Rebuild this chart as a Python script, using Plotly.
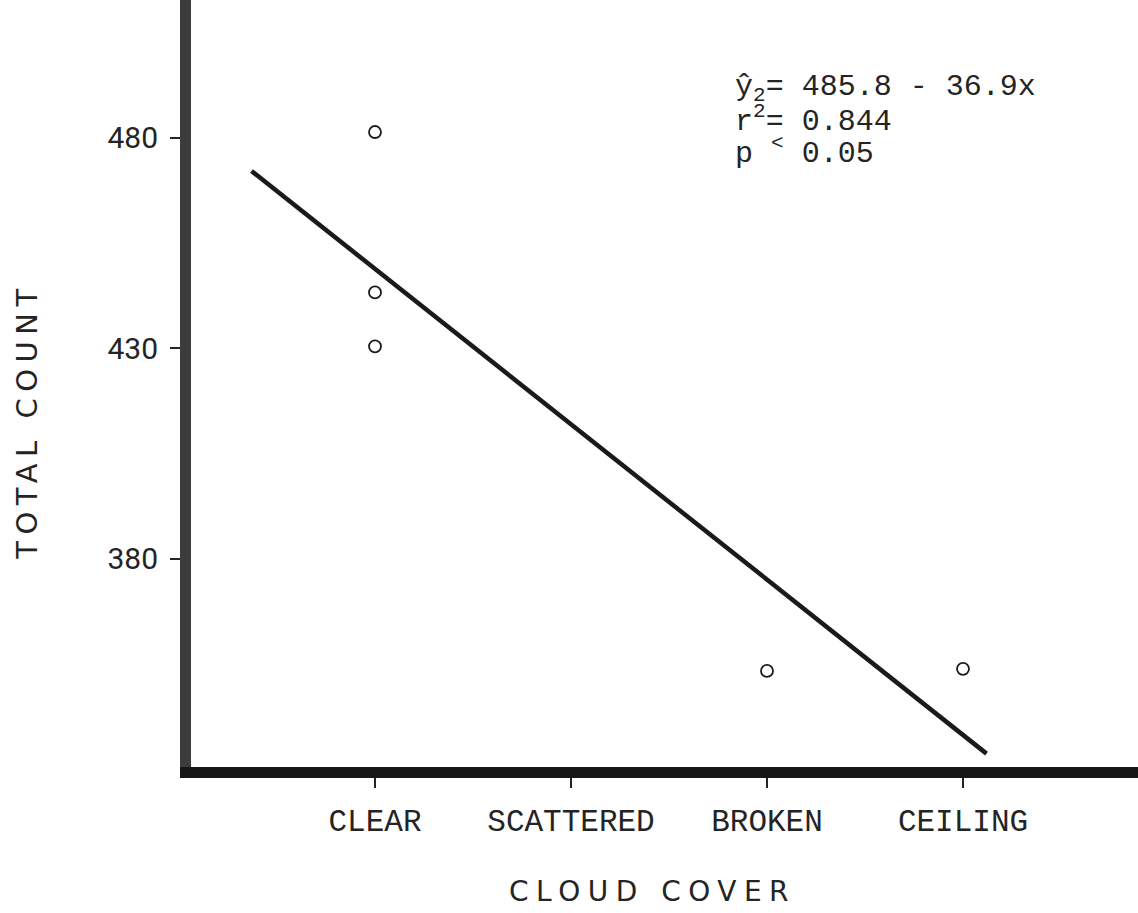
import numpy as np
import plotly.graph_objects as go

# ---- data ----
categories = ["CLEAR", "SCATTERED", "BROKEN", "CEILING"]
cat_pos = [1, 2, 3, 4]
obs_x = [1, 1, 1, 3, 4]
obs_y = [481.4, 443.3, 430.5, 353.4, 353.9]
fit_intercept = 485.8
fit_slope = -36.9
fit_x_span = [0.37, 4.12]
y_ticks = [330, 380, 430, 480]

W, H = 1138, 913
L, B = 191, 145.5
plot_w = W - L
plot_h = H - B

fx = np.array(fit_x_span)
fy = fit_intercept + fit_slope * fx

fig = go.Figure()
fig.add_trace(go.Scatter(x=fx, y=fy, mode="lines",
                         line=dict(color="#1a1a1a", width=4.5),
                         hoverinfo="skip", showlegend=False))
fig.add_trace(go.Scatter(x=obs_x, y=obs_y, mode="markers",
                         marker=dict(symbol="circle-open", size=12,
                                     color="#1a1a1a", line=dict(width=1.8)),
                         showlegend=False))

ink = "#242424"

def px_x(p):
    return (p - L) / plot_w

def px_y(p):
    return (plot_h - p) / plot_h

ann = []
eq_font = dict(family="Liberation Mono, Courier New, monospace", size=30, color=ink)
eq_lines = [
    ("ŷ<sub>2</sub>= 485.8 - 36.9x", 89),
    ("r<sup>2</sup>= 0.844", 120),
    ("p <sup>&lt;</sup> 0.05", 152),
]
for txt, yy in eq_lines:
    ann.append(dict(text=txt, x=px_x(733), y=px_y(yy), xref="paper", yref="paper",
                    xanchor="left", yanchor="middle", showarrow=False, font=eq_font))

ann.append(dict(text='<span style="letter-spacing:7.5px">CLOUD COVER</span>',
                x=px_x(652), y=px_y(892), xref="paper", yref="paper",
                xanchor="center", yanchor="middle", showarrow=False,
                font=dict(family="DejaVu Sans", size=28, color=ink)))
ann.append(dict(text='<span style="letter-spacing:6.5px">TOTAL COUNT</span>',
                x=px_x(27), y=px_y(422), xref="paper", yref="paper",
                xanchor="center", yanchor="middle", textangle=-90, showarrow=False,
                font=dict(family="DejaVu Sans", size=29, color=ink)))

y_per_px = 150 / (770 - 138)
y_min = 330 - (plot_h - 770) * y_per_px
y_max = 330 + 770 * y_per_px
x_per_px = 3 / (963 - 375)
x_min = 1 - (375 - L) * x_per_px
x_max = 4 + (W - 963) * x_per_px

fig.update_layout(
    width=W, height=H,
    margin=dict(l=L, r=0, t=0, b=B, pad=0),
    paper_bgcolor="white", plot_bgcolor="white",
    annotations=ann,
    xaxis=dict(range=[x_min, x_max], tickmode="array", tickvals=cat_pos,
               ticktext=categories, showgrid=False, zeroline=False,
               showline=True, linecolor="#161616", linewidth=11,
               ticks="outside", ticklen=10, tickwidth=1.5, tickcolor=ink,
               ticklabelstandoff=6,
               tickfont=dict(family="Liberation Mono, Courier New, monospace",
                             size=31, color=ink)),
    yaxis=dict(range=[y_min, y_max], tickmode="array", tickvals=y_ticks,
               showgrid=False, zeroline=False,
               showline=True, linecolor="#3c3c3c", linewidth=11,
               ticks="outside", ticklen=10, tickwidth=1.5, tickcolor=ink,
               ticklabelstandoff=6,
               tickfont=dict(family="Roboto", size=30, color=ink)),
)

fig.write_html("out.html")
